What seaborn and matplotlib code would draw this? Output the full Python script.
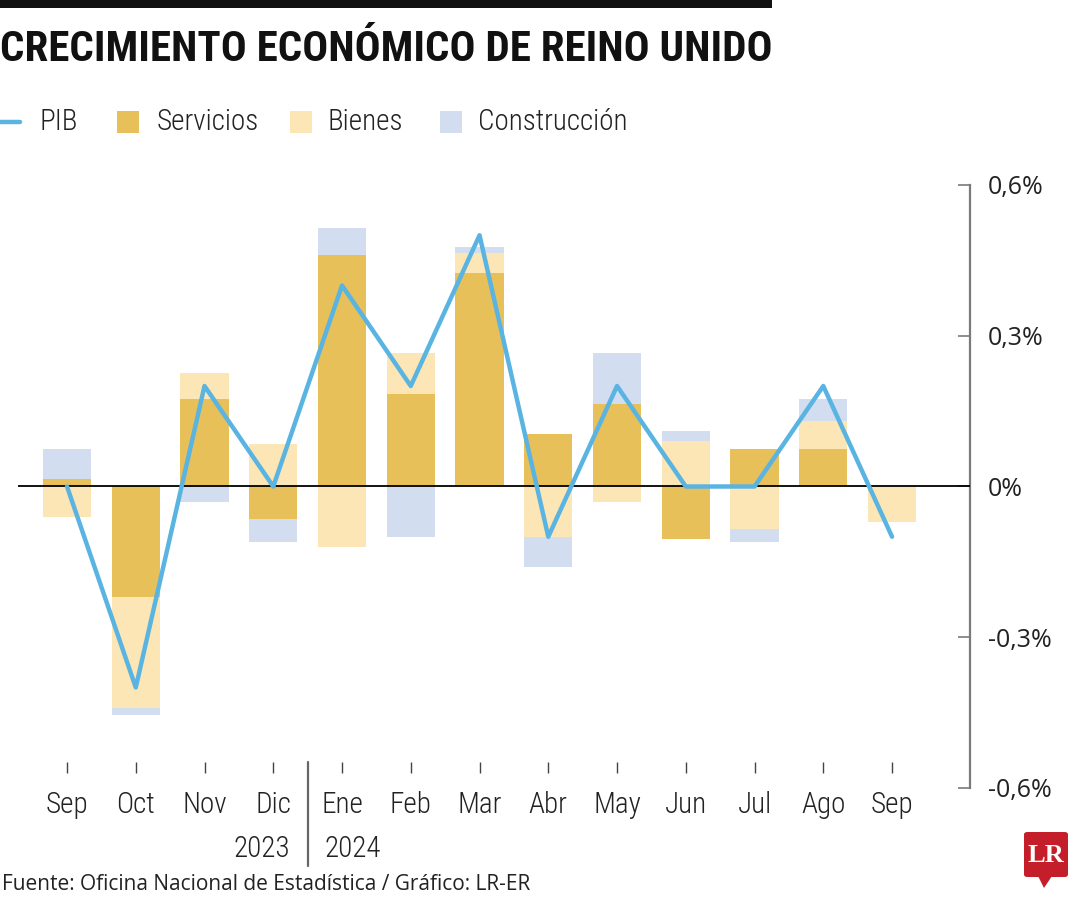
#### CRECIMIENTO ECONÓMICO DE REINO UNIDO - barras apiladas + línea PIB ####

import numpy as np
import matplotlib
matplotlib.use('Agg')
import matplotlib.pyplot as plt
from matplotlib.patches import Rectangle, FancyBboxPatch, Polygon
from matplotlib.lines import Line2D
import matplotlib.transforms as mtransforms
import seaborn as sns

#### Datos (variación mensual, %) ####
meses = ["Sep", "Oct", "Nov", "Dic", "Ene", "Feb", "Mar", "Abr", "May", "Jun", "Jul", "Ago", "Sep"]
servicios = [0.015, -0.22, 0.175, -0.065, 0.46, 0.185, 0.425, 0.105, 0.165, -0.105, 0.075, 0.075, 0.0]
bienes = [-0.06, -0.22, 0.05, 0.085, -0.12, 0.08, 0.04, -0.10, -0.03, 0.09, -0.085, 0.055, -0.07]
construccion = [0.06, -0.015, -0.03, -0.045, 0.055, -0.10, 0.012, -0.06, 0.10, 0.02, -0.025, 0.045, 0.0]
pib = [0.0, -0.4, 0.2, 0.0, 0.4, 0.2, 0.5, -0.1, 0.2, 0.0, 0.0, 0.2, -0.1]
ticks_y = [-0.6, -0.3, 0.0, 0.3, 0.6]
etiquetas_y = ["-0,6%", "-0,3%", "0%", "0,3%", "0,6%"]

#### Colores ####
C_SERV = "#E8C05A"
C_BIEN = "#FDE6B5"
C_CONS = "#D2DDF0"
C_PIB = "#5AB4E2"

sns.set_theme(style="white")
FUENTE_COND = ['Roboto Condensed', 'Liberation Sans Narrow', 'Roboto', 'DejaVu Sans']
FUENTE_NUM = ['Open Sans', 'DejaVu Sans']
plt.rcParams['font.family'] = FUENTE_COND

fig = plt.figure(figsize=(10.8, 9), dpi=100)
ax = fig.add_axes([18 / 1080, 112 / 900, 952 / 1080, 603 / 900])
renderer = fig.canvas.get_renderer()


def ajustar_ancho(texto, ancho_px):
    # escala el tamaño de letra para que el texto ocupe el ancho deseado
    ancho = texto.get_window_extent(renderer=renderer).width
    texto.set_fontsize(texto.get_fontsize() * ancho_px / ancho)


pos = np.arange(len(meses))
capas = np.array([servicios, bienes, construccion])
positivos = np.cumsum(np.clip(capas, 0, None), axis=0)
negativos = np.cumsum(np.clip(capas, None, 0), axis=0)
colores = [C_SERV, C_BIEN, C_CONS]

#### Barras apiladas: se pinta de la capa acumulada mayor a la menor ####
for i in [2, 1, 0]:
    for acumulado in (positivos, negativos):
        sns.barplot(x=pos, y=acumulado[i], color=colores[i], saturation=1,
                    width=0.7, linewidth=0, errorbar=None, ax=ax)

ax.axhline(0, color="black", lw=1.3, zorder=3)
sns.lineplot(x=pos, y=pib, color=C_PIB, lw=3.2, ax=ax, zorder=4)

#### Ejes ####
ax.set_xlim(-0.713, 13.134)
ax.set_ylim(-0.6, 0.6)
for lado in ["top", "left", "bottom"]:
    ax.spines[lado].set_visible(False)
ax.spines["right"].set_color("#7a7a7a")
ax.spines["right"].set_linewidth(1.6)
ax.yaxis.tick_right()
ax.set_yticks(ticks_y)
ax.set_yticklabels(etiquetas_y, family=FUENTE_NUM, fontsize=18, color="#222222")
ax.tick_params(axis="y", direction="in", length=9, width=1.2, color="#7a7a7a", pad=13)

ax.spines["bottom"].set_position(("data", -0.57))
ax.set_xticks(pos)
ax.set_xticklabels(meses, fontsize=21, fontweight="light", color="#222222")
ax.tick_params(axis="x", direction="in", length=8, width=1, color="#444444", pad=13, bottom=True)
ax.set_xlabel("")
ax.set_ylabel("")

#### Años bajo los meses ####
trans = mtransforms.blended_transform_factory(ax.transData, fig.transFigure)
ax.text(3.24, 0.057, "2023", transform=trans, ha="right", va="center", fontsize=21,
        fontweight="light", color="#222222")
ax.text(3.75, 0.057, "2024", transform=trans, ha="left", va="center", fontsize=21,
        fontweight="light", color="#222222")
fig.add_artist(Line2D([3.5, 3.5], [1 - 762 / 900, 1 - 866 / 900], transform=trans,
                      color="#666666", lw=1.6))

#### Título y barra superior ####
fig.add_artist(Rectangle((0, 1 - 8 / 900), 772 / 1080, 8 / 900, transform=fig.transFigure,
                         color="#111111", lw=0))
titulo = fig.text(0, 1 - 61 / 900, "CRECIMIENTO ECONÓMICO DE REINO UNIDO", fontsize=30,
                  fontweight="bold", ha="left", va="baseline", color="#111111")
ajustar_ancho(titulo, 772)

#### Leyenda manual ####
y_ley = 1 - 122 / 900
fig.add_artist(Line2D([0, 20 / 1080], [y_ley, y_ley], transform=fig.transFigure, color=C_PIB, lw=3.2))
fig.text(40 / 1080, y_ley, "PIB", fontsize=21, fontweight="light", va="center", color="#222222")
for x0, col, txt, xt in [(117, C_SERV, "Servicios", 157), (290, C_BIEN, "Bienes", 328),
                         (440, C_CONS, "Construcción", 478)]:
    fig.add_artist(Rectangle((x0 / 1080, 1 - 133 / 900), 22 / 1080, 22 / 900,
                             transform=fig.transFigure, color=col, lw=0))
    fig.text(xt / 1080, y_ley, txt, fontsize=21, fontweight="light", va="center", color="#222222")

#### Fuente ####
fuente = fig.text(2 / 1080, 1 - 885 / 900, "Fuente: Oficina Nacional de Estadística / Gráfico: LR-ER",
                  family=FUENTE_NUM, fontsize=15, va="center", color="#222222")
ajustar_ancho(fuente, 528)

#### Logo LR ####
fig.add_artist(FancyBboxPatch((1024 / 1080, 1 - 877 / 900), 44 / 1080, 45 / 900,
                              boxstyle="round,pad=0,rounding_size=0.003",
                              transform=fig.transFigure, color="#C41E2A", lw=0))
fig.add_artist(Polygon([[1038 / 1080, 1 - 876 / 900], [1052 / 1080, 1 - 876 / 900],
                        [1044 / 1080, 1 - 888 / 900]], closed=True,
                       transform=fig.transFigure, color="#C41E2A", lw=0))
fig.text(1046 / 1080, 1 - 855 / 900, "LR", family=['Liberation Serif', 'DejaVu Serif'],
         fontsize=19, fontweight="bold", color="white", ha="center", va="center")

plt.savefig("out.png", dpi=100)
plt.close()
